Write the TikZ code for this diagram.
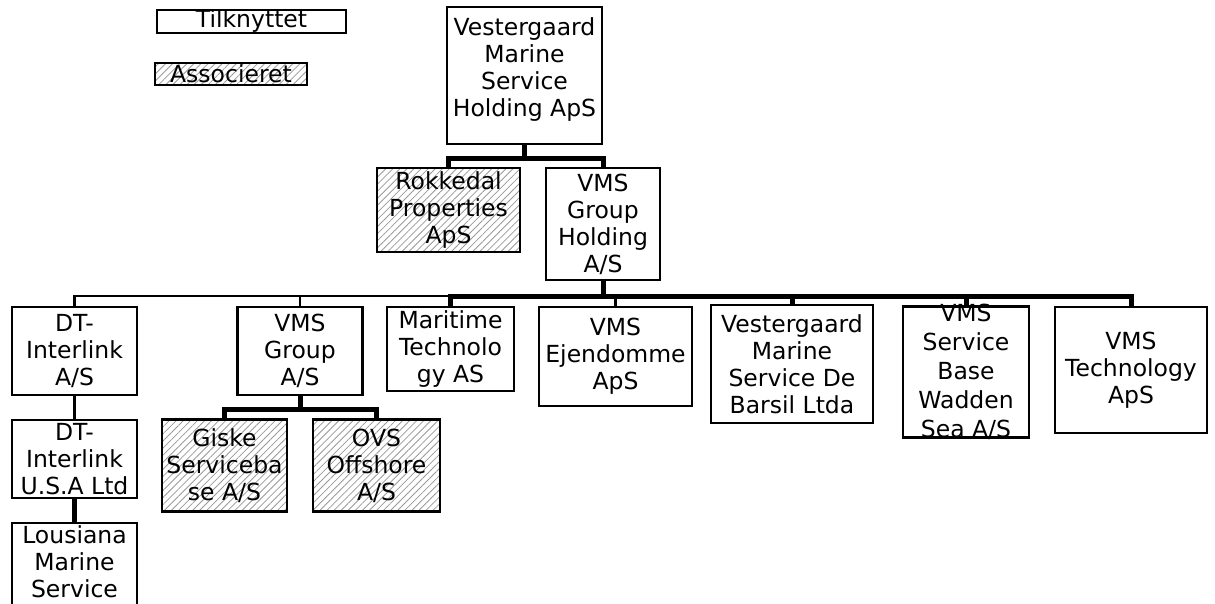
\documentclass[tikz,border=0pt]{standalone}
\usepackage{fontspec}
\setmainfont{DejaVu Sans}
\usetikzlibrary{patterns.meta}

\begin{document}
\begin{tikzpicture}[x=1pt,y=-1pt,
  box/.style={draw,line width=2.2pt,fill=white,inner sep=0pt},
  assoc/.style={box,pattern={Lines[angle=45,distance=5pt,line width=0.8pt]},pattern color=black!40},
  txt/.style={align=center,inner sep=0pt,font=\fontsize{23.5}{27}\selectfont},
  tie/.style={line width=2.2pt},
  own/.style={line width=5pt}]
\useasboundingbox (0,0) rectangle (1215,604);
\clip (0,0) rectangle (1215,604);

% legend
\node[box,minimum width=189,minimum height=23] (tilk) at (251.5,21.5) {};
\node[txt] at (tilk) {Tilknyttet};
\node[assoc,minimum width=152,minimum height=22] (asso) at (231,74) {};
\node[txt] at (asso) {Associeret};

% top
\node[box,minimum width=155,minimum height=137] (vmsh) at (524.5,75.5) {};
\node[txt] at (524.5,70) {Vestergaard\\Marine\\Service\\Holding ApS};
\node[assoc,minimum width=143,minimum height=84] (rokk) at (448.5,210) {};
\node[txt] at (rokk) {Rokkedal\\Properties\\ApS};
\node[box,minimum width=114,minimum height=112] (vmsgh) at (603,224) {};
\node[txt] at (vmsgh) {VMS\\Group\\Holding\\A/S};

% second row
\node[box,minimum width=125,minimum height=88] (dti) at (74.5,351) {};
\node[txt] at (dti) {DT-\\Interlink\\A/S};
\node[box,minimum width=125,minimum height=88] (vmsg) at (300,351) {};
\node[txt] at (vmsg) {VMS\\Group\\A/S};
\node[box,minimum width=127,minimum height=84] (mt) at (450.5,349) {};
\node[txt] at (mt) {Maritime\\Technolo\\gy AS};
\node[box,minimum width=153,minimum height=99] (ejd) at (615.5,356.5) {};
\node[txt] at (ejd) {VMS\\Ejendomme\\ApS};
\node[box,minimum width=162,minimum height=118] (bar) at (792,364) {};
\node[txt] at (bar) {Vestergaard\\Marine\\Service De\\Barsil Ltda};
\node[box,minimum width=126,minimum height=131] (wad) at (966,372) {};
\node[txt,font=\fontsize{23.5}{29}\selectfont] at (wad) {VMS\\Service\\Base\\Wadden\\Sea A/S};
\node[box,minimum width=152,minimum height=126] (tech) at (1131,370) {};
\node[txt] at (tech) {VMS\\Technology\\ApS};

% third row
\node[box,minimum width=125,minimum height=78] (dtusa) at (74.5,459) {};
\node[txt] at (dtusa) {DT-\\Interlink\\U.S.A Ltd};
\node[assoc,minimum width=125,minimum height=92] (giske) at (224.5,465.5) {};
\node[txt] at (giske) {Giske\\Serviceba\\se A/S};
\node[assoc,minimum width=127,minimum height=92] (ovs) at (376.5,465.5) {};
\node[txt] at (ovs) {OVS\\Offshore\\A/S};
\node[box,minimum width=125,minimum height=90] (lou) at (74.5,568) {};
\node[txt] at (74.5,562) {Lousiana\\Marine\\Service};

% connectors
\draw[own] (vmsh.south) -- ++(0,13) -| (rokk.north);
\draw[own] (vmsh.south) -- ++(0,13) -| (vmsgh.north);

\draw[tie] (vmsgh.south) -- ++(0,15) -| (dti.north);
\draw[tie] (vmsgh.south) -- ++(0,15) -| (vmsg.north);
\draw[tie] (vmsgh.south) -- ++(0,15) -| (ejd.north);
\draw[own] (vmsgh.south) -- ++(0,15) -| (mt.north);
\draw[own] (vmsgh.south) -- ++(0,15) -| (bar.north);
\draw[own] (vmsgh.south) -- ++(0,15) -| (wad.north);
\draw[own] (vmsgh.south) -- ++(0,15) -| (tech.north);

\draw[own] (vmsg.south) -- ++(0,13) -| (giske.north);
\draw[own] (vmsg.south) -- ++(0,13) -| (ovs.north);

\draw[tie] (dti) -- (dtusa);
\draw[own] (dtusa) -- (lou);
\end{tikzpicture}
\end{document}
